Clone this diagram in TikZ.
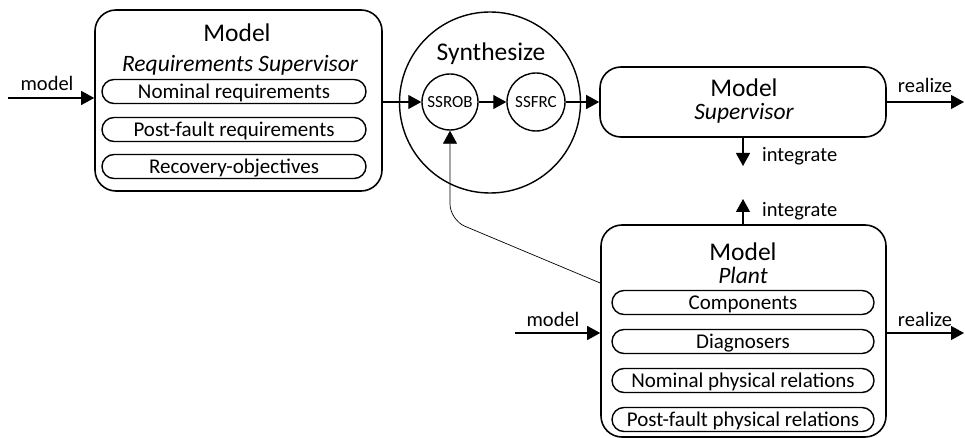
\documentclass[tikz,border=0pt]{standalone}
\usepackage{fontspec}
\setmainfont{Carlito}
\usetikzlibrary{arrows.meta,positioning,shapes.geometric}

\tikzset{
    bigbox/.style={draw,line width=1.6pt,rounded corners=21pt},
    pill/.style={draw,line width=1.4pt,rounded corners=12pt,inner sep=0pt,
        minimum height=24pt,text height=14pt,text depth=0pt,
        font=\fontsize{21}{25}\selectfont},
    ring/.style={draw,circle,line width=1.4pt,inner sep=0pt},
    flow/.style={-{Triangle[length=13pt,width=14pt]},line width=1.1pt},
    lbl/.style={anchor=base,inner sep=0pt,font=\fontsize{20.5}{24}\selectfont},
    head/.style={anchor=base,inner sep=0pt,font=\fontsize{25.5}{30}\selectfont},
    sub/.style={anchor=base,inner sep=0pt,font=\fontsize{23.5}{28}\selectfont\itshape},
}

\begin{document}
\begin{tikzpicture}[x=1pt,y=1pt]
    \useasboundingbox (0,0) rectangle (965,-438);

    % Requirements supervisor model
    \node[bigbox,minimum width=287pt,minimum height=181pt] (req) at (238.5,-100.5) {};
    \node[head] (reqtitle) at (237,-42) {Model};
    \node[sub] (reqsub) at (240,-72) {Requirements Supervisor};
    \node[pill,minimum width=264pt] (nomreq) at (234,-91.5) {Nominal requirements};
    \node[pill,minimum width=264pt] (postreq) at (234,-129.5) {Post-fault requirements};
    \node[pill,minimum width=264pt] (recobj) at (234,-166.5) {Recovery-objectives};
    \coordinate (reqin) at (8,-98);
    \draw[flow] (reqin) -- (req.west |- reqin);
    \node[lbl] (reqinlbl) at (47,-91) {model};

    % Synthesis
    \node[ring,minimum size=181pt] (synth) at (490,-102.5) {};
    \node[head] (synthtitle) at (491,-61) {Synthesize};
    \node[ring,minimum size=56pt,font=\fontsize{17}{19}\selectfont,text height=10.5pt,text depth=0pt] (ssrob) at (450,-102) {SSROB};
    \node[ring,minimum size=58pt,font=\fontsize{17}{19}\selectfont,text height=10.5pt,text depth=0pt] (ssfrc) at (536,-102) {SSFRC};
    \draw[flow] (req.east |- ssrob.west) -- (ssrob.west);
    \draw[flow] (ssrob) -- (ssfrc);

    % Supervisor model
    \node[bigbox,minimum width=286pt,minimum height=70pt] (sup) at (743,-102) {};
    \node[head] (suptitle) at (744,-97) {Model};
    \node[sub] (supsub) at (744,-120) {Supervisor};
    \draw[flow] (ssfrc.east) -- (sup.west |- ssfrc.east);
    \coordinate (supout) at (964,-102);
    \draw[flow] (sup.east) -- (supout);
    \node[lbl] (supoutlbl) at (925,-93) {realize};
    \coordinate (supdown) at (743,-166);
    \draw[flow] (sup.south) -- (supdown);
    \node[lbl,anchor=base west] (supdownlbl) at (762,-162) {integrate};

    % Plant model
    \node[bigbox,minimum width=285pt,minimum height=212pt] (plant) at (743.5,-331) {};
    \node[head] (planttitle) at (743,-260) {Model};
    \node[sub] (plantsub) at (743,-283) {Plant};
    \node[pill,minimum width=262pt] (comp) at (743,-302.5) {Components};
    \node[pill,minimum width=262pt] (diag) at (743,-341.5) {Diagnosers};
    \node[pill,minimum width=262pt] (nomphys) at (743,-380.5) {Nominal physical relations};
    \node[pill,minimum width=262pt] (postphys) at (743,-419.5) {Post-fault physical relations};
    \coordinate (plantup) at (743,-199);
    \draw[flow] (plant.north -| plantup) -- (plantup);
    \node[lbl,anchor=base west] (plantuplbl) at (762,-216) {integrate};
    \coordinate (plantin) at (515,-333);
    \draw[flow] (plantin) -- (plant.west |- plantin);
    \node[lbl] (plantinlbl) at (553,-326) {model};
    \coordinate (plantout) at (964,-333);
    \draw[flow] (plant.east |- plantout) -- (plantout);
    \node[lbl] (plantoutlbl) at (925,-326) {realize};

    % Plant feeds the robust synthesis
    \draw[-{Triangle[length=13pt,width=14pt]},line width=0.7pt,rounded corners=16pt]
        ([yshift=48pt]plant.west) -- (ssrob.south |- 0,-220) -- (ssrob.south);
\end{tikzpicture}
\end{document}
